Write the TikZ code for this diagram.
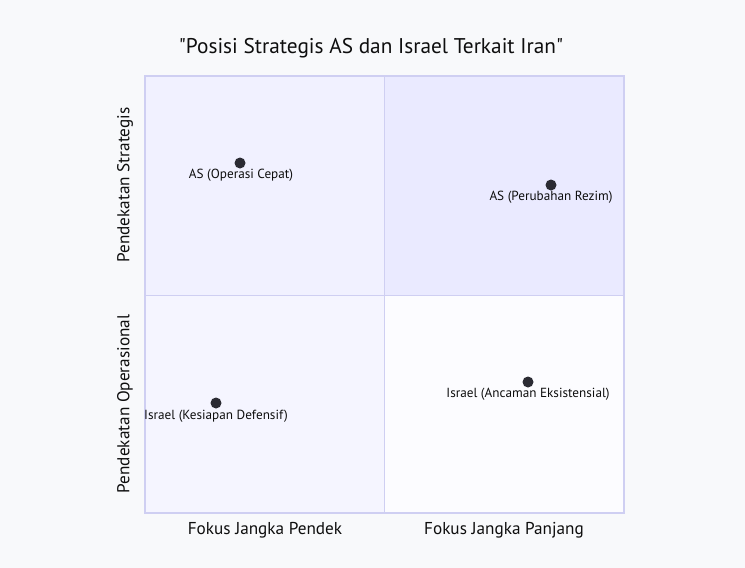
\documentclass[tikz,border=0pt]{standalone}
\usepackage{fontspec}
\setmainfont{PT Sans}[Ligatures=TeXOff]
\definecolor{bg}{HTML}{F8F9FB}
\definecolor{qtl}{HTML}{F1F1FF}
\definecolor{qtr}{HTML}{EAEAFF}
\definecolor{qbl}{HTML}{F5F5FF}
\definecolor{qbr}{HTML}{FCFCFF}
\definecolor{qline}{HTML}{CFCFF2}
\definecolor{dotc}{HTML}{2B2B33}
\definecolor{txt}{HTML}{0E0E0E}
\tikzset{
  pt/.style={circle,fill=dotc,inner sep=0pt,minimum size=11pt},
  ptlabel/.style={font=\fontsize{13.2}{15}\selectfont,text=txt,inner sep=0pt},
  axlabel/.style={font=\fontsize{17.2}{20}\selectfont,text=txt,inner sep=0pt},
}
\begin{document}
\begin{tikzpicture}[x=1pt,y=-1pt]
\useasboundingbox[fill=bg] (0,0) rectangle (745,568);
% quadrants
\fill[qtl] (145,76) rectangle (384,295);
\fill[qtr] (384,76) rectangle (624,295);
\fill[qbl] (145,295) rectangle (384,513);
\fill[qbr] (384,295) rectangle (624,513);
\draw[qline,line width=1pt] (384,76) -- (384,513);
\draw[qline,line width=1pt] (145,295) -- (624,295);
\draw[qline,line width=2pt] (145,76) rectangle (624,513);
% title
\node[font=\fontsize{21.3}{25}\selectfont,text=txt,inner sep=0pt] (title) at (371,48) {"Posisi Strategis AS dan Israel Terkait Iran"};
% axis labels
\node[axlabel] (xl) at (265,530) {Fokus Jangka Pendek};
\node[axlabel] (xr) at (504,530) {Fokus Jangka Panjang};
\node[axlabel,rotate=90] (yt) at (125,185) {Pendekatan Strategis};
\node[axlabel,rotate=90] (yb) at (125,404) {Pendekatan Operasional};
% points
\node[pt] (p1) at (240,163) {};
\node[ptlabel] (l1) at (241,175.5) {AS (Operasi Cepat)};
\node[pt] (p2) at (551,185) {};
\node[ptlabel] (l2) at (551,197.5) {AS (Perubahan Rezim)};
\node[pt] (p3) at (216,403) {};
\node[ptlabel] (l3) at (216,416.5) {Israel (Kesiapan Defensif)};
\node[pt] (p4) at (528,382) {};
\node[ptlabel] (l4) at (528,394.5) {Israel (Ancaman Eksistensial)};
\end{tikzpicture}
\end{document}
